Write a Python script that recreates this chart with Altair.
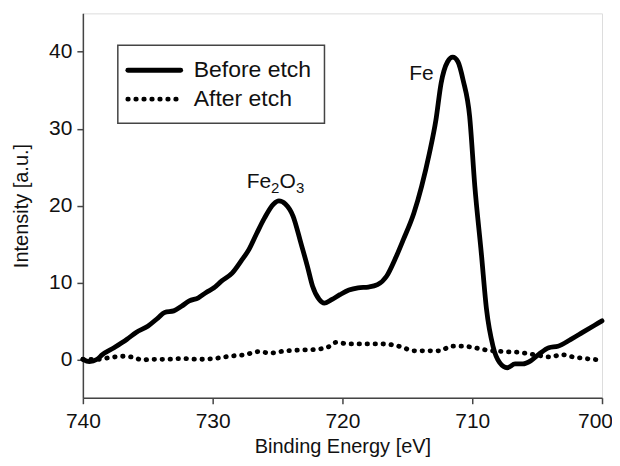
import altair as alt
import pandas as pd

# Before etch (solid)
before_x = [740, 739.5, 738.9, 738.5, 737.6, 736.6, 735.9, 735.0, 734.2, 733.7, 733.0, 732.4,
            731.8, 731.1, 730.5, 729.9, 729.3, 728.5, 727.8, 727.2, 726.6, 726.0, 725.3, 724.9,
            724.4, 723.8, 723.2, 722.7, 722.3, 721.8, 721.4, 720.8, 720.2, 719.5, 718.8, 718.0,
            717.3, 716.6, 715.9, 715.3, 714.5, 713.9, 713.3, 712.8, 712.4, 711.9, 711.5, 711.1,
            710.7, 710.2, 709.8, 709.3, 708.9, 708.4, 707.9, 707.3, 706.7, 706.1, 705.5, 704.9,
            704.1, 703.4, 702.4, 701.5, 700.6, 700.0]
before_y = [0, -0.3, 0, 0.6, 1.5, 2.6, 3.5, 4.3, 5.4, 6.1, 6.3, 6.9,
            7.6, 8.0, 8.7, 9.3, 10.2, 11.2, 12.8, 14.3, 16.4, 18.4, 20.2, 20.6,
            20.2, 18.6, 15.1, 12.1, 9.5, 7.8, 7.3, 7.8, 8.4, 9.0, 9.3, 9.4,
            9.7, 10.8, 13.2, 15.6, 19.0, 22.5, 26.8, 31.1, 35.9, 38.7, 39.3, 38.7,
            36.3, 31.6, 22.5, 13.8, 6.5, 1.7, -0.4, -1.1, -0.6, -0.6, -0.2, 0.6,
            1.5, 1.7, 2.6, 3.5, 4.4, 5.0]

# After etch (dotted)
after_x = [740, 738.8, 738.0, 736.8, 736.0, 735.4, 734.8, 733.6, 732.4, 731.1, 729.9, 728.7,
           727.5, 726.4, 725.6, 724.4, 723.2, 722.0, 721.1, 720.5, 719.5, 718.3, 717.1, 715.9,
           715.3, 714.5, 713.4, 712.5, 711.6, 710.7, 709.8, 708.9, 707.6, 706.4, 705.2, 704.0,
           703.1, 702.2, 701.3, 700.0]
after_y = [0, 0, 0.2, 0.4, 0.2, -0.1, 0, 0, 0.1, 0, 0.1, 0.4,
           0.6, 1.0, 0.8, 1.1, 1.2, 1.3, 1.6, 2.2, 2.0, 2.0, 2.0, 1.8,
           1.5, 1.1, 1.1, 1.1, 1.7, 1.7, 1.5, 1.2, 1.0, 0.9, 0.6, 0.3,
           0.6, 0.3, 0.1, -0.1]

series_names = ["Before etch", "After etch"]
y_ticks = [0, 10, 20, 30, 40]
x_ticks = [740, 730, 720, 710, 700]

# peak annotations: text pieces (normal / subscript) anchored at a data point
ann_text = ["Fe", "Fe", "2", "O", "3"]
ann_x = [714.85, 727.38, 727.38, 727.38, 727.38]
ann_y = [36.3, 22.34, 22.34, 22.34, 22.34]
ann_sub = [False, False, True, False, True]

FONT = "Arial, Liberation Sans, DejaVu Sans"
LINE_W = 4.8

df = pd.concat([
    pd.DataFrame({"energy": before_x, "intensity": before_y, "series": series_names[0]}),
    pd.DataFrame({"energy": after_x, "intensity": after_y, "series": series_names[1]}),
])

xs = alt.Scale(domain=[700, 740], reverse=True, nice=False)
ys = alt.Scale(domain=[-5, 45], nice=False)

common_axis = dict(grid=False, tickSize=6, labelFontSize=21, titleFontSize=20,
                   labelFont=FONT, titleFont=FONT, titleFontWeight="normal",
                   domainColor="#444", domainWidth=1.5, tickColor="#444", tickWidth=1.5,
                   labelColor="#111", titleColor="#111", labelFlush=False)
xax = alt.Axis(values=x_ticks, title="Binding Energy [eV]", labelPadding=7,
               titlePadding=5, format="d",
               labelOffset={"condition": {"test": "datum.value == 700", "value": -7}, "value": 0},
               **common_axis)
yax = alt.Axis(values=y_ticks, title="Intensity [a.u.]", labelPadding=5,
               titlePadding=17, **common_axis)

before = alt.Chart(df[df.series == series_names[0]]).mark_line(
    color="black", strokeWidth=LINE_W, strokeCap="round", strokeJoin="round", interpolate="monotone"
).encode(x=alt.X("energy:Q", scale=xs, axis=xax), y=alt.Y("intensity:Q", scale=ys, axis=yax))

after = alt.Chart(df[df.series == series_names[1]]).mark_line(
    color="black", strokeWidth=LINE_W, strokeCap="round", strokeDash=[0.5, 7.5], interpolate="monotone"
).encode(x=alt.X("energy:Q", scale=xs), y=alt.Y("intensity:Q", scale=ys))

ann_df = pd.DataFrame({"t": ann_text, "x": ann_x, "y": ann_y, "sub": ann_sub})
# horizontal offsets of the pieces of "Fe2O3" (piece widths at their font sizes)
dx_list = [0, 0, 24.5, 32.8, 49.3]
layers_ann = []
for i in range(len(ann_text)):
    layers_ann.append(
        alt.Chart(ann_df.iloc[[i]]).mark_text(
            fontSize=15 if ann_sub[i] else 21, font=FONT, color="#111",
            align="left", baseline="alphabetic", dx=dx_list[i], dy=5 if ann_sub[i] else 0
        ).encode(x=alt.X("x:Q", scale=xs), y=alt.Y("y:Q", scale=ys), text="t:N")
    )

# legend (drawn as decoration)
one = pd.DataFrame({"a": [0]})
leg_box = alt.Chart(one).mark_rect(
    fill="white", stroke="#444", strokeWidth=1.5
).encode(x=alt.value(35), x2=alt.value(242), y=alt.value(32), y2=alt.value(110))
leg_solid = alt.Chart(one).mark_rule(
    color="black", strokeWidth=LINE_W, strokeCap="round"
).encode(x=alt.value(45), x2=alt.value(98), y=alt.value(57))
leg_dot = alt.Chart(one).mark_rule(
    color="black", strokeWidth=LINE_W, strokeCap="round", strokeDash=[0.5, 7.5]
).encode(x=alt.value(45), x2=alt.value(100), y=alt.value(86))
leg_t1 = alt.Chart(pd.DataFrame({"t": [series_names[0]]})).mark_text(
    fontSize=23, font=FONT, color="#111", align="left", baseline="middle"
).encode(x=alt.value(111), y=alt.value(57), text="t:N")
leg_t2 = alt.Chart(pd.DataFrame({"t": [series_names[1]]})).mark_text(
    fontSize=23, font=FONT, color="#111", align="left", baseline="middle"
).encode(x=alt.value(111), y=alt.value(86), text="t:N")

chart = alt.layer(before, after, *layers_ann, leg_box, leg_solid, leg_dot, leg_t1, leg_t2).properties(
    width=520, height=385,
    autosize=alt.AutoSizeParams(type="none"),
    padding={"left": 75, "top": 5, "right": 10, "bottom": 60},
).configure_view(stroke="#666", strokeWidth=1.5).configure(background="white")

chart.save("out.html", embed_options={"renderer": "svg", "actions": False})
